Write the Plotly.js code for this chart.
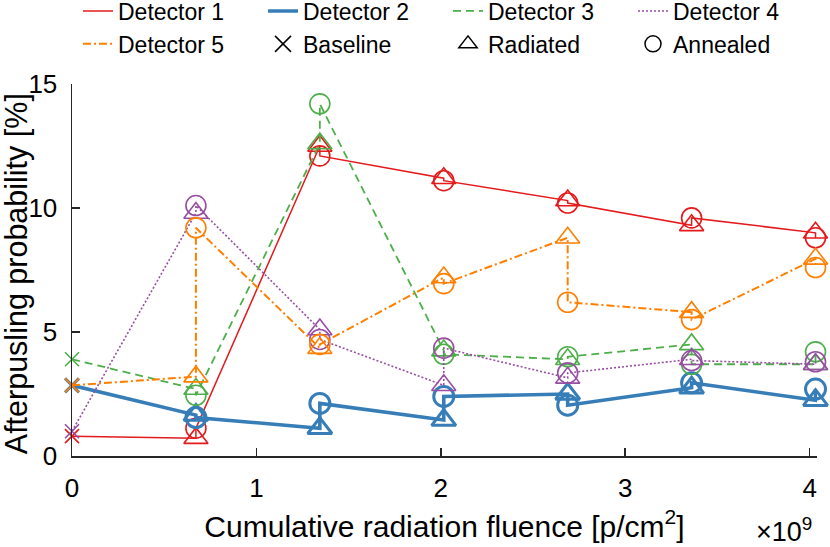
<!DOCTYPE html>
<html>
<head>
<meta charset="utf-8">
<script src="https://cdn.plot.ly/plotly-3.0.1.min.js"></script>
<style>
  html, body { margin: 0; padding: 0; background: #fff; }
  #chart { width: 830px; height: 547px; }
</style>
</head>
<body>
<div id="chart"></div>
<script>
// fluence steps, in units of 1e9 p/cm^2
const FLUENCE = [0.672, 1.344, 2.016, 2.688, 3.36, 4.032];
const DETECTORS = ["Detector 1", "Detector 2", "Detector 3", "Detector 4", "Detector 5"];
const BASELINE = [0.8, 2.85, 3.9, 1.0, 2.85];

// afterpulsing [%] right after each irradiation / after the anneal that follows it
const RADIATED_1 = [0.72, 12.5, 11.2, 10.3, 9.3, 9.0];
const ANNEALED_1 = [1.12, 12.1, 11.1, 10.2, 9.6, 8.8];
const RADIATED_2 = [1.65, 1.12, 1.45, 2.5, 2.75, 2.25];
const ANNEALED_2 = [1.55, 2.12, 2.4, 2.05, 2.95, 2.7];
const RADIATED_3 = [2.7, 12.6, 4.25, 3.9, 4.5, 3.7];
const ANNEALED_3 = [2.45, 14.2, 4.1, 4.0, 3.7, 4.2];
const RADIATED_4 = [9.8, 5.1, 2.85, 3.15, 3.9, 3.7];
const ANNEALED_4 = [10.1, 4.7, 4.35, 3.35, 3.85, 3.8];
const RADIATED_5 = [3.2, 4.35, 7.2, 8.8, 5.8, 7.95];
const ANNEALED_5 = [9.2, 4.5, 6.95, 6.2, 5.5, 7.6];

const RADIATED = [RADIATED_1, RADIATED_2, RADIATED_3, RADIATED_4, RADIATED_5];
const ANNEALED = [ANNEALED_1, ANNEALED_2, ANNEALED_3, ANNEALED_4, ANNEALED_5];

const FONT = "'Liberation Sans', Arial, Helvetica, sans-serif";
const INK = "#262626";

const STYLES = [
  { color: "#e41a1c", width: 1.5, dash: "solid", edge: 1.6 },
  { color: "#377eb8", width: 3.6, dash: "solid", edge: 3 },
  { color: "#4daf4a", width: 1.8, dash: "8px,5px", edge: 1.6 },
  { color: "#984ea3", width: 1.6, dash: "2px,2px", edge: 1.6 },
  { color: "#ff7f00", width: 2, dash: "8px,3px,2px,3px", edge: 1.6 },
];

// path runs baseline -> radiated -> annealed -> next radiated ...
function detectorTrace(i) {
  const { color, width, dash, edge } = STYLES[i];
  const steps = FLUENCE.map((f, k) => [
    [f, RADIATED[i][k], "triangle-up-open", 21],
    [f, ANNEALED[i][k], "circle-open", 20],
  ]).flat();
  const pts = [[0, BASELINE[i], "x-thin-open", 14], ...steps];

  return {
    type: "scatter",
    mode: "lines+markers",
    x: pts.map((p) => p[0]),
    y: pts.map((p) => p[1]),
    cliponaxis: false,
    line: { color, width, dash },
    marker: {
      color,
      opacity: 1,
      symbol: pts.map((p) => p[2]),
      size: pts.map((p) => p[3]),
      line: { color, width: edge },
    },
    showlegend: false,
    hoverinfo: "skip",
  };
}

const legendLines = DETECTORS.map((name, i) => ({
  type: "scatter",
  mode: "lines",
  name,
  x: [null],
  y: [null],
  line: { color: STYLES[i].color, width: STYLES[i].width, dash: STYLES[i].dash },
}));

const legendMarks = [
  ["Baseline", "x-thin-open"],
  ["Radiated", "triangle-up-open"],
  ["Annealed", "circle-open"],
].map(([name, symbol]) => ({
  type: "scatter",
  mode: "markers",
  name,
  x: [null],
  y: [null],
  marker: { color: "#000", symbol, size: 16, line: { color: "#000", width: 1.5 } },
}));

const axis = {
  showline: true,
  linecolor: INK,
  linewidth: 1.5,
  ticks: "inside",
  ticklen: 8,
  tickwidth: 1.5,
  tickcolor: INK,
  showgrid: false,
  zeroline: false,
  tickfont: { family: FONT, size: 26, color: "#000" },
  ticklabelstandoff: 8,
};

const label = (text, size, extra) => ({
  xref: "paper",
  yref: "paper",
  showarrow: false,
  text,
  font: { family: FONT, size, color: "#000" },
  ...extra,
});

Plotly.newPlot(
  "chart",
  [...DETECTORS.map((_, i) => detectorTrace(i)), ...legendLines, ...legendMarks],
  {
    width: 830,
    height: 547,
    margin: { l: 72, r: 13, t: 84, b: 91, autoexpand: false },
    paper_bgcolor: "#fff",
    plot_bgcolor: "#fff",
    font: { family: FONT, color: "#000" },
    xaxis: {
      ...axis,
      range: [0, 4.04],
      tickvals: [0, 1, 2, 3, 4],
      title: {
        text: "Cumulative radiation fluence [p/cm<sup>2</sup>]",
        font: { family: FONT, size: 30, color: "#000" },
        standoff: 14,
      },
    },
    yaxis: {
      ...axis,
      range: [0, 15],
      tickvals: [0, 5, 10, 15],
    },
    showlegend: true,
    legend: {
      orientation: "h",
      xref: "container",
      yref: "paper",
      x: 78 / 830,
      y: 1.254,
      xanchor: "left",
      yanchor: "top",
      entrywidth: 140,
      entrywidthmode: "pixels",
      font: { family: FONT, size: 23, color: "#000" },
      bgcolor: "rgba(0,0,0,0)",
      tracegroupgap: 0,
    },
    annotations: [
      label("Afterpusling probability [%]", 30.5, {
        x: -0.075,
        y: 0.489,
        xanchor: "center",
        yanchor: "middle",
        textangle: -90,
      }),
      label("×10<sup>9</sup>", 27, {
        x: 1,
        y: -0.2,
        xanchor: "right",
        yanchor: "middle",
        xshift: -3,
      }),
    ],
  },
  { displayModeBar: false, staticPlot: true }
);
</script>
</body>
</html>
